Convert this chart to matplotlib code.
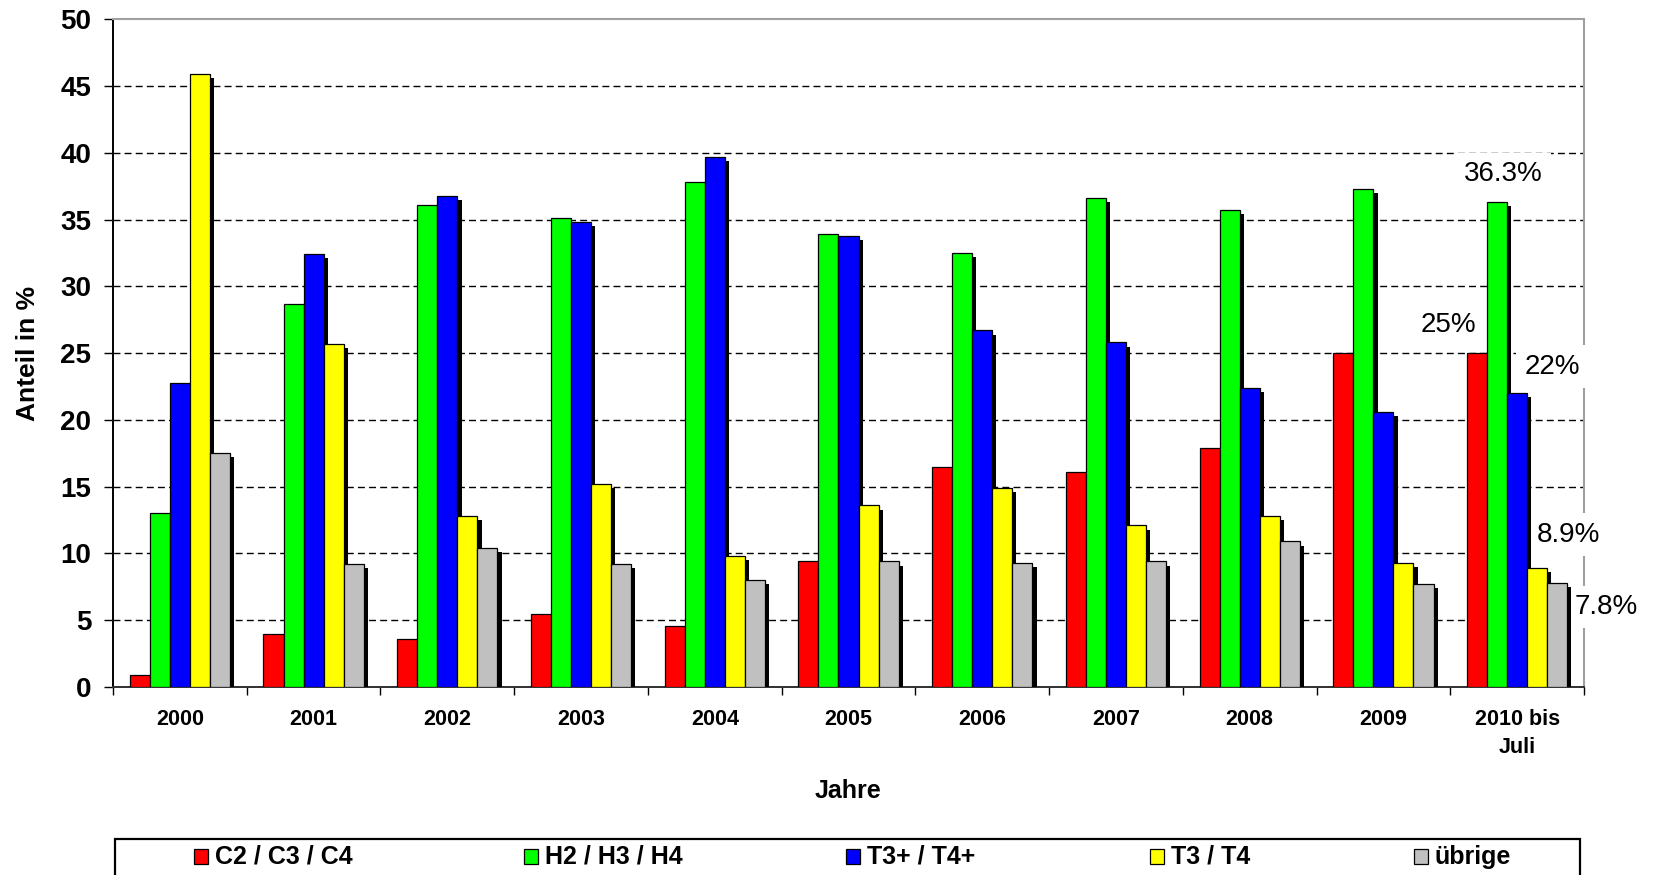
import matplotlib
matplotlib.use("Agg")
import matplotlib.pyplot as plt
import matplotlib.patheffects as pe
from matplotlib.patches import Rectangle
import numpy as np

# --- data ---
years = ["2000", "2001", "2002", "2003", "2004", "2005", "2006",
         "2007", "2008", "2009", "2010 bis\nJuli"]
series_names = ["C2 / C3 / C4", "H2 / H3 / H4", "T3+ / T4+", "T3 / T4", "übrige"]
c_vals = [0.9, 4.0, 3.6, 5.5, 4.6, 9.4, 16.5, 16.1, 17.9, 25.0, 25.0]
h_vals = [13.0, 28.7, 36.1, 35.1, 37.8, 33.9, 32.5, 36.6, 35.7, 37.3, 36.3]
tplus_vals = [22.8, 32.4, 36.8, 34.8, 39.7, 33.8, 26.7, 25.8, 22.4, 20.6, 22.0]
t_vals = [45.9, 25.7, 12.8, 15.2, 9.8, 13.6, 14.9, 12.1, 12.8, 9.3, 8.9]
other_vals = [17.5, 9.2, 10.4, 9.2, 8.0, 9.4, 9.3, 9.4, 10.9, 7.7, 7.8]
colors = ["#FF0000", "#00FF00", "#0000FF", "#FFFF00", "#C0C0C0"]

# labels on the last group: (text, series index, dx, dy)
last_labels = [("36.3%", 1, 0.05, 2.1), ("25%", 0, -0.215, 2.1),
               ("22%", 2, 0.26, 2.0), ("8.9%", 3, 0.23, 2.5),
               ("7.8%", 4, 0.37, -1.8)]

all_vals = [c_vals, h_vals, tplus_vals, t_vals, other_vals]

W, H = 1654, 875
fig = plt.figure(figsize=(W / 100, H / 100), dpi=100)
ax = fig.add_axes([113 / W, (H - 687) / H, 1471 / W, 667.7 / H])

x = np.arange(len(years))
bw = 0.15
shadow = [pe.SimplePatchShadow(offset=(3, -3), shadow_rgbFace="black", alpha=1.0), pe.Normal()]
for i, vals in enumerate(all_vals):
    bars = ax.bar(x + (i - 2) * bw, vals, bw, color=colors[i],
                  edgecolor="black", linewidth=0.9, label=series_names[i], zorder=4)
    for b in bars:
        b.set_path_effects(shadow)

ax.set_xlim(-0.5, len(years) - 0.5)
ax.set_ylim(0, 50)
ax.set_yticks(np.arange(0, 51, 5))
ax.set_xticks(x)
ax.set_xticklabels(years)
ax.set_xticks(np.arange(-0.5, len(years), 1), minor=True)

ax.tick_params(axis="y", direction="out", length=6.5, width=1, pad=9,
               labelsize=20)
ax.tick_params(axis="x", which="major", length=0, pad=16, labelsize=15.5)
ax.tick_params(axis="x", which="minor", direction="out", length=6, width=1)
for lbl in ax.get_yticklabels() + ax.get_xticklabels():
    lbl.set_fontfamily("Liberation Sans")
    lbl.set_fontweight("bold")
for lbl in ax.get_xticklabels():
    lbl.set_linespacing(1.4)

ax.set_axisbelow(True)
ax.yaxis.grid(True, color="black", linewidth=1.0, linestyle=(0, (5, 3)))
gl = ax.get_ygridlines()
gl[0].set_visible(False)
gl[-1].set_visible(False)

ax.spines["left"].set_color("black")
ax.spines["left"].set_linewidth(1.4)
ax.spines["bottom"].set_color("#303030")
ax.spines["bottom"].set_linewidth(1.4)
ax.spines["top"].set_color("#a0a0a0")
ax.spines["top"].set_linewidth(1.5)
ax.spines["right"].set_color("#a0a0a0")
ax.spines["right"].set_linewidth(1.5)

# value labels for the last period
last = len(years) - 1
for txt, si, dx, dy in last_labels:
    ax.text(last + (si - 2) * bw + dx, all_vals[si][last] + dy, txt,
            ha="center", va="center", fontsize=20, family="Liberation Sans",
            clip_on=False, zorder=3,
            bbox=dict(boxstyle="square,pad=0.3", facecolor="white", edgecolor="none"))

# axis titles
fig.text(28 / W, 1 - 353 / H, "Anteil in %", rotation=90, ha="center", va="center",
         fontsize=19, fontweight="bold", family="Liberation Sans")
fig.text(848 / W, 1 - 791 / H, "Jahre", ha="center", va="center",
         fontsize=18, fontweight="bold", family="Liberation Sans")

# legend box along the bottom
box_top = 839
fig.add_artist(Rectangle((115 / W, -10 / H), (1580 - 115) / W, (H - box_top + 10) / H,
                         transform=fig.transFigure, facecolor="white",
                         edgecolor="black", linewidth=1.6))
marker_left = [194, 524, 846, 1150, 1414]
for i, name in enumerate(series_names):
    fig.add_artist(Rectangle((marker_left[i] / W, 1 - 864 / H), 14 / W, 15 / H,
                             transform=fig.transFigure, facecolor=colors[i],
                             edgecolor="black", linewidth=0.9))
    fig.text((marker_left[i] + 21) / W, 1 - 857 / H, name, ha="left", va="center",
             fontsize=18, fontweight="bold", family="Liberation Sans")

fig.savefig("out.png", dpi=100)
